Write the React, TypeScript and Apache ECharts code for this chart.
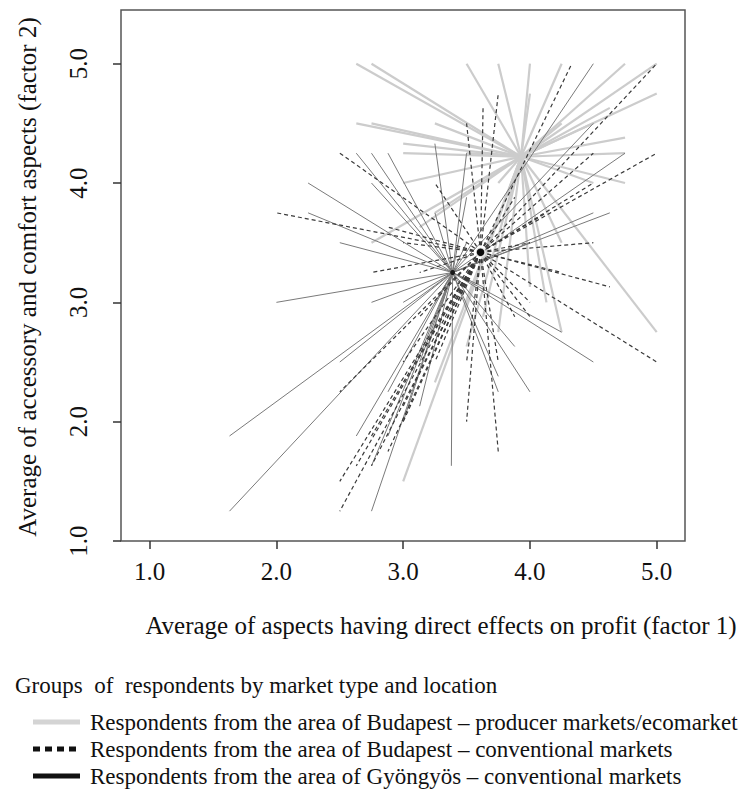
import React, { useEffect, useRef } from "react";
import * as echarts from "echarts";

// Group centroids (factor 1, factor 2)
const centroidEco: [number, number] = [3.93, 4.22];
const centroidBpConv: [number, number] = [3.61, 3.42];
const centroidGyongyos: [number, number] = [3.39, 3.25];

// Respondents: Budapest – producer markets / ecomarket
const ecoPoints: [number, number][] = [
  [2.63, 5.0], [2.75, 5.0], [3.5, 5.0], [3.75, 5.0], [4.0, 5.0], [4.25, 5.0],
  [4.75, 5.0], [5.0, 5.0], [5.0, 4.75], [4.63, 4.63], [2.63, 4.5], [2.75, 4.5],
  [3.25, 4.5], [3.0, 4.33], [3.0, 4.25], [4.75, 4.38], [4.75, 4.25], [4.75, 4.0],
  [3.0, 4.0], [2.75, 3.5], [5.0, 2.75], [4.25, 2.75], [3.75, 2.75], [3.0, 1.5],
  [3.25, 2.33], [4.0, 4.75], [3.5, 3.0], [4.0, 3.13], [3.5, 2.63], [4.5, 4.5],
  [4.25, 4.5], [3.5, 4.25], [3.75, 4.0], [4.5, 4.0], [4.25, 3.5], [3.25, 3.75],
  [3.13, 3.63], [3.63, 2.88], [4.13, 3.0],
];

// Respondents: Budapest – conventional markets
const bpConvPoints: [number, number][] = [
  [2.5, 4.25], [2.0, 3.75], [3.5, 4.5], [3.63, 4.63], [3.75, 4.75], [3.25, 4.0],
  [2.75, 3.25], [4.33, 5.0], [5.0, 5.0], [5.0, 4.25], [4.5, 4.25], [4.5, 4.0],
  [4.5, 3.5], [4.63, 3.13], [5.0, 2.5], [4.0, 3.0], [4.0, 2.88], [3.75, 1.75],
  [3.75, 2.5], [2.5, 1.25], [2.5, 1.5], [2.75, 1.63], [3.25, 2.5], [3.5, 2.0],
  [3.5, 2.5], [2.5, 2.25], [3.0, 3.5], [3.13, 3.25], [4.0, 3.5], [4.25, 3.25],
  [3.88, 2.88], [3.13, 2.88], [3.0, 2.5], [2.88, 3.63], [4.13, 3.75], [3.88, 3.88],
  [3.0, 2.0], [2.63, 1.63], [2.75, 1.88], [2.88, 1.75], [3.0, 2.13],
];

// Respondents: Gyöngyös – conventional markets
const gyongyosPoints: [number, number][] = [
  [1.63, 1.25], [1.63, 1.88], [2.0, 3.0], [2.25, 4.0], [2.25, 3.75], [2.5, 3.5],
  [2.63, 4.25], [2.75, 4.25], [2.75, 4.0], [2.88, 4.25], [3.25, 4.33], [3.5, 4.25],
  [4.5, 5.0], [4.75, 4.25], [4.5, 3.75], [4.63, 3.75], [4.5, 2.5], [4.25, 2.75],
  [4.0, 2.25], [3.88, 2.63], [3.75, 2.38], [3.75, 2.25], [3.38, 1.63], [2.75, 1.25],
  [2.75, 1.63], [2.5, 2.5], [2.88, 2.25], [3.0, 2.0], [3.13, 2.5], [3.5, 3.5],
  [3.0, 3.0], [2.75, 3.0], [3.25, 3.0], [3.63, 3.13], [4.0, 3.5], [3.25, 3.75],
  [4.5, 4.5], [3.5, 3.88], [2.63, 1.88], [2.88, 1.88], [3.13, 2.13],
];

const tickValues = [1, 2, 3, 4, 5];

const xTitle = "Average of aspects having direct effects on profit (factor 1)";
const yTitle = "Average of accessory and comfort aspects (factor 2)";
const legendTitle = "Groups  of  respondents by market type and location";
const legendLabels = [
  "Respondents from the area of Budapest \u2013 producer markets/ecomarket",
  "Respondents from the area of Budapest \u2013 conventional markets",
  "Respondents from the area of Gy\u00f6ngy\u00f6s \u2013 conventional markets",
];

const FONT = '"Liberation Serif", "Times New Roman", serif';

function segs(center: [number, number], pts: [number, number][]) {
  return pts.map((p) => ({ coords: [[center[0], center[1]], [p[0], p[1]]] }));
}

export default function App() {
  const ref = useRef<HTMLDivElement>(null);
  useEffect(() => {
    if (!ref.current) return;
    const chart = echarts.init(ref.current, null, { renderer: "svg" });
    const legendY = [722, 749, 776];
    chart.setOption({
      animation: false,
      backgroundColor: "#ffffff",
      grid: {
        left: 121,
        top: 10,
        width: 564,
        height: 531,
        show: true,
        borderColor: "#555555",
        borderWidth: 1.5,
        backgroundColor: "transparent",
      },
      xAxis: {
        type: "value",
        min: 0.774,
        max: 5.223,
        splitLine: { show: false },
        axisLine: { show: false },
        axisTick: {
          show: true,
          customValues: tickValues,
          length: 8,
          lineStyle: { color: "#333", width: 1.5 },
        },
        axisLabel: {
          customValues: tickValues,
          formatter: (v: number) => v.toFixed(1),
          fontFamily: FONT,
          fontSize: 25,
          color: "#111",
          margin: 18,
        },
      },
      yAxis: {
        type: "value",
        min: 1.0,
        max: 5.45,
        splitLine: { show: false },
        axisLine: { show: false },
        axisTick: {
          show: true,
          customValues: tickValues,
          length: 8,
          lineStyle: { color: "#333", width: 1.5 },
        },
        axisLabel: {
          customValues: tickValues,
          formatter: (v: number) => v.toFixed(1),
          fontFamily: FONT,
          fontSize: 25,
          color: "#111",
          rotate: 90,
          margin: 30,
        },
      },
      series: [
        {
          type: "lines",
          coordinateSystem: "cartesian2d",
          silent: true,
          z: 1,
          lineStyle: { color: "#cccccc", width: 2.2, opacity: 1 },
          data: segs(centroidEco, ecoPoints),
        },
        {
          type: "lines",
          coordinateSystem: "cartesian2d",
          silent: true,
          z: 2,
          lineStyle: { color: "#7a7a7a", width: 1, opacity: 1 },
          data: segs(centroidGyongyos, gyongyosPoints),
        },
        {
          type: "lines",
          coordinateSystem: "cartesian2d",
          silent: true,
          z: 3,
          lineStyle: { color: "#3a3a3a", width: 1.2, type: [4, 3], opacity: 1 },
          data: segs(centroidBpConv, bpConvPoints),
        },
        {
          type: "scatter",
          silent: true,
          z: 4,
          symbol: "circle",
          symbolSize: 9,
          itemStyle: { color: "#000", borderColor: "#fff", borderWidth: 1.5 },
          data: [centroidBpConv],
        },
        {
          type: "scatter",
          silent: true,
          z: 4,
          symbol: "circle",
          symbolSize: 5,
          itemStyle: { color: "#000" },
          data: [centroidGyongyos],
        },
        {
          type: "scatter",
          silent: true,
          z: 4,
          symbol: "circle",
          symbolSize: 5,
          itemStyle: { color: "#cccccc" },
          data: [centroidEco],
        },
      ],
      graphic: [
        {
          type: "text",
          x: 27,
          y: 277,
          rotation: Math.PI / 2,
          style: {
            text: yTitle,
            font: `25px ${FONT}`,
            fill: "#111",
            textAlign: "center",
            textVerticalAlign: "middle",
          },
        },
        {
          type: "text",
          x: 441,
          y: 625,
          style: {
            text: xTitle,
            font: `25px ${FONT}`,
            fill: "#111",
            textAlign: "center",
            textVerticalAlign: "middle",
          },
        },
        {
          type: "text",
          x: 15,
          y: 685,
          style: {
            text: legendTitle,
            font: `23px ${FONT}`,
            fill: "#111",
            textAlign: "left",
            textVerticalAlign: "middle",
          },
        },
        {
          type: "line",
          shape: { x1: 33, y1: legendY[0], x2: 80, y2: legendY[0] },
          style: { stroke: "#d4d4d4", lineWidth: 5 },
        },
        {
          type: "line",
          shape: { x1: 33, y1: legendY[1], x2: 80, y2: legendY[1] },
          style: { stroke: "#111", lineWidth: 5, lineDash: [7, 5] },
        },
        {
          type: "line",
          shape: { x1: 33, y1: legendY[2], x2: 80, y2: legendY[2] },
          style: { stroke: "#111", lineWidth: 5 },
        },
        ...legendLabels.map((t, i) => ({
          type: "text",
          x: 90,
          y: legendY[i],
          style: {
            text: t,
            font: `23px ${FONT}`,
            fill: "#111",
            textAlign: "left",
            textVerticalAlign: "middle",
          },
        })),
      ],
    });
    return () => chart.dispose();
  }, []);
  return <div ref={ref} style={{ width: 739, height: 796, position: "absolute", left: 0, top: 0 }} />;
}
